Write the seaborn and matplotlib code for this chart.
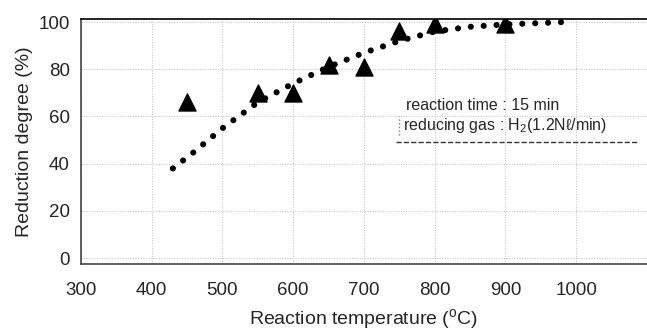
import seaborn as sns
import matplotlib
matplotlib.use("Agg")
import matplotlib.pyplot as plt
import pandas as pd

# measured points (triangles)
temp = [450, 550, 600, 650, 700, 750, 800, 900]
reduction = [66, 70, 70, 82, 81, 96, 99, 99]

# dotted trend curve
curve_temp = [430, 460, 500, 550, 600, 650, 700, 750, 800, 850, 900, 950, 982]
curve_red = [38, 45, 55, 66, 74, 81, 87, 92, 96, 98, 99, 99.6, 100]

xticks = [300, 400, 500, 600, 700, 800, 900, 1000]
yticks = [0, 20, 40, 60, 80, 100]

sns.set_style("white")
plt.rcParams['font.family'] = ['Liberation Sans', 'DejaVu Sans']
plt.rcParams['mathtext.fontset'] = 'custom'
plt.rcParams['mathtext.rm'] = 'Liberation Sans'

fig = plt.figure(figsize=(6.47, 3.33), dpi=100)
ax = fig.add_axes([0.125, 0.207, 0.875, 0.736])

pts = pd.DataFrame({"t": temp, "r": reduction})
crv = pd.DataFrame({"t": curve_temp, "r": curve_red})

sns.lineplot(data=crv, x="t", y="r", ax=ax, color="black", linewidth=4.4,
             linestyle=(0, (0.01, 2.1)), dash_capstyle="round", zorder=3)
sns.scatterplot(data=pts, x="t", y="r", ax=ax, marker="^", s=150,
                color="black", edgecolor="black", zorder=4)

ax.set_xlim(310, 1100)
ax.set_ylim(-2.5, 101.3)
ax.set_xticks(xticks)
ax.set_yticks(yticks)
ax.tick_params(labelsize=13.5, length=0)
ax.tick_params(axis="x", pad=13)
ax.tick_params(axis="y", pad=8)
ax.grid(True, linestyle=":", color="#bbbbbb", linewidth=0.7)
ax.set_xlabel(r"Reaction temperature ($^{\mathrm{o}}$C)", fontsize=14, labelpad=6)
ax.set_ylabel("Reduction degree (%)", fontsize=14, labelpad=4)
ax.spines['right'].set_visible(False)
ax.spines['left'].set_color("#444444")
ax.spines['top'].set_color("black")
ax.spines['bottom'].set_color("#444444")
for s in ('top', 'bottom', 'left'):
    ax.spines[s].set_linewidth(1.2)

# condition notes
ax.text(760, 64.5, "reaction time : 15 min", fontsize=11.5, va="center")
ax.text(755, 56, "reducing gas : H$_2$(1.2N\u2113/min)", fontsize=11.5, va="center")
ax.plot([745, 1087], [49, 49], color="#333333", linestyle="--", linewidth=1)
ax.plot([749, 749], [52, 60], color="#777777", linestyle=":", linewidth=1)

fig.savefig("out.png", dpi=100)
